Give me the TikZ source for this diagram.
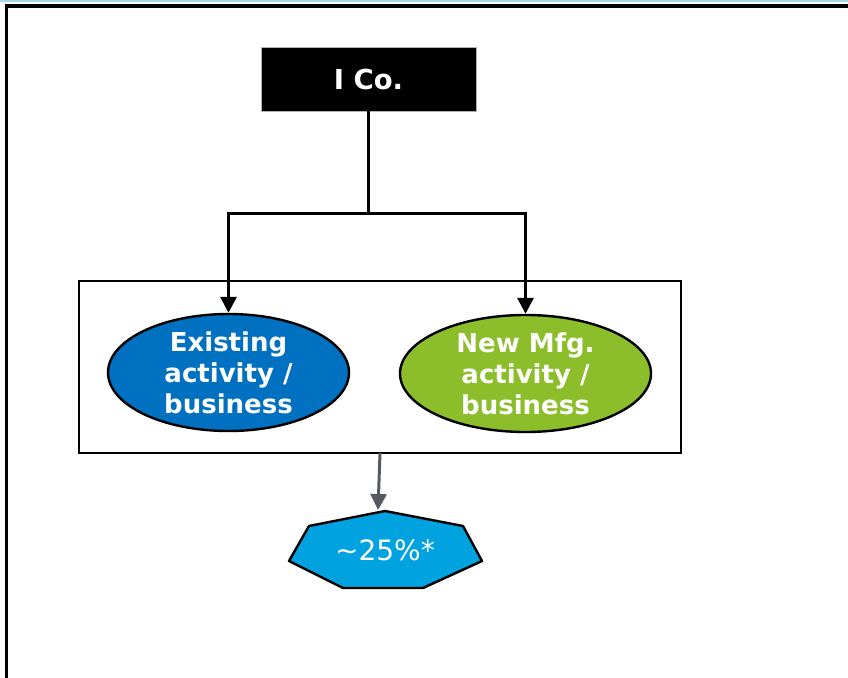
\documentclass[tikz,border=0pt]{standalone}
\usepackage{fontspec}
\setmainfont{DejaVu Sans}
\usetikzlibrary{shapes.geometric,arrows.meta}
\definecolor{exblue}{HTML}{0070C0}
\definecolor{mfggreen}{HTML}{8BBE2A}
\definecolor{heptblue}{HTML}{00A3DF}
\definecolor{arrgray}{HTML}{555A60}
\definecolor{topline}{HTML}{A8D8E6}
\tikzset{
  conn/.style={line width=3pt, -{Triangle[width=16pt,length=16pt]}},
  oval/.style={ellipse, draw=black, line width=2.4pt, text=white, font=\fontsize{26}{31}\selectfont\bfseries, align=center, inner sep=0pt},
}
\begin{document}
\begin{tikzpicture}[x=1pt,y=-1pt]
\useasboundingbox (0,0) rectangle (848,677);
\fill[white] (0,0) rectangle (848,677);
% top light line and outer frame
\draw[topline, line width=1.5pt] (0,0.8) -- (848,0.8);
\draw[black, line width=3.2pt] (6.5,690) -- (6.5,6) -- (860,6);
% I Co. box
\node[fill=black, draw=gray!60, line width=0.5pt, minimum width=215pt, minimum height=64pt, inner sep=0pt, text=white, font=\fontsize{27.5}{30}\selectfont\bfseries] (ico) at (368.5,79) {I Co.};
% container
\node[draw=black, line width=2.8pt, minimum width=602pt, minimum height=172pt, inner sep=0pt] (cont) at (380,367) {};
% ellipses
\node[oval, fill=exblue, minimum width=241pt, minimum height=117pt] (exist) at (228.5,372.5) {Existing\\activity /\\business};
\node[oval, fill=mfggreen, minimum width=251pt, minimum height=117pt] (newmfg) at (525.5,373.5) {New Mfg.\\activity /\\business};
% heptagon
\coordinate (htop) at (385,511);
\filldraw[fill=heptblue, draw=black, line width=2.4pt, line join=round]
  (htop) -- (463,526) -- (482,561) -- (423,588) -- (343,588) -- (289,561) -- (309,526) -- cycle;
\node[text=white, font=\fontsize{28}{30}\selectfont, inner sep=0pt] (pct) at (385,550) {\char"223C 25\%*};
% connectors
\coordinate (split) at (368.5,213.5);
\draw[line width=3pt] (ico.south) -- (split);
\draw[conn] (split) -| (exist.north);
\draw[conn] (split) -| (newmfg.north);
\coordinate (cbot) at (380,453);
\draw[arrgray, line width=3pt, -{Triangle[width=16pt,length=16pt]}] (cbot) -- (378,510);
\end{tikzpicture}
\end{document}
